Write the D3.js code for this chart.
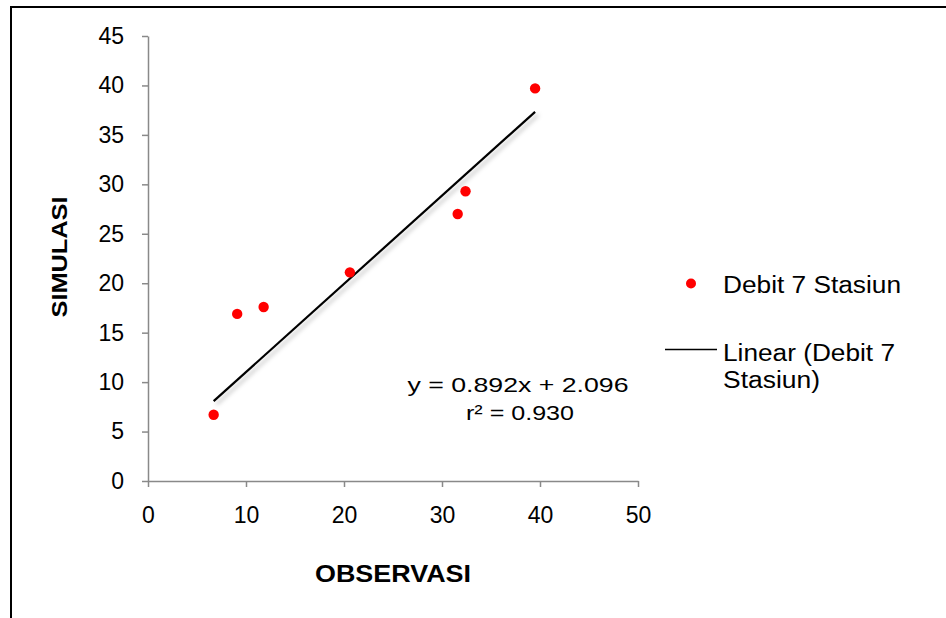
<!DOCTYPE html>
<html>
<head>
<meta charset="utf-8">
<script src="https://cdn.jsdelivr.net/npm/d3@7.9.0/dist/d3.min.js"></script>
<style>
  body { margin: 0; background: #fff; }
  svg { display: block; font-family: Arial, "Liberation Sans", sans-serif; }
</style>
</head>
<body>
<svg id="chart" width="946" height="618"></svg>
<script>
const observasi = [6.7, 9.1, 11.8, 20.6, 31.6, 32.4, 39.5];
const simulasi = [6.7, 16.9, 17.6, 21.1, 27.0, 29.3, 39.7];
const xTicks = [0, 10, 20, 30, 40, 50];
const yTicks = [0, 5, 10, 15, 20, 25, 30, 35, 40, 45];
const slope = 0.892, intercept = 2.096, r2 = 0.930;

const svg = d3.select('#chart');
const axisColor = '#898989';

// outer frame (only left & top edges are visible in the window)
svg.append('rect')
    .attr('x', 11).attr('y', 7)
    .attr('width', 1000).attr('height', 700)
    .attr('fill', 'none').attr('stroke', '#000').attr('stroke-width', 2);

const x = d3.scaleLinear().domain([0, 50]).range([148, 638]);
const y = d3.scaleLinear().domain([0, 45]).range([481, 36]);

// shadow for the trend line
const defs = svg.append('defs');
defs.append('filter').attr('id', 'shadow')
    .attr('x', '-10%').attr('y', '-10%').attr('width', '130%').attr('height', '130%')
  .append('feDropShadow')
    .attr('dx', 3).attr('dy', 3).attr('stdDeviation', 2)
    .attr('flood-color', '#000').attr('flood-opacity', 0.25);

// y axis
const yAxis = svg.append('g')
    .attr('transform', `translate(${x(0)},0)`)
    .call(d3.axisLeft(y).tickValues(yTicks).tickSize(6).tickSizeOuter(0).tickPadding(18));
yAxis.select('.domain').attr('stroke', axisColor).attr('stroke-width', 1.5);
yAxis.selectAll('.tick line').attr('stroke', axisColor).attr('stroke-width', 1.5);
yAxis.selectAll('.tick text').attr('font-size', 23).attr('fill', '#000')
    .attr('font-family', 'Arial, "Liberation Sans", sans-serif');

// x axis
const xAxis = svg.append('g')
    .attr('transform', `translate(0,${y(0)})`)
    .call(d3.axisBottom(x).tickValues(xTicks).tickSize(6).tickSizeOuter(0).tickPadding(20));
xAxis.select('.domain').attr('stroke', axisColor).attr('stroke-width', 1.5);
xAxis.selectAll('.tick line').attr('stroke', axisColor).attr('stroke-width', 1.5);
xAxis.selectAll('.tick text').attr('font-size', 23).attr('fill', '#000')
    .attr('font-family', 'Arial, "Liberation Sans", sans-serif');

// axis titles
svg.append('text')
    .attr('transform', 'translate(67,257) rotate(-90)')
    .attr('text-anchor', 'middle')
    .attr('font-size', 22).attr('font-weight', 'bold')
    .attr('textLength', 121).attr('lengthAdjust', 'spacingAndGlyphs')
    .text('SIMULASI');

svg.append('text')
    .attr('x', 393).attr('y', 582)
    .attr('text-anchor', 'middle')
    .attr('font-size', 23).attr('font-weight', 'bold')
    .attr('textLength', 156).attr('lengthAdjust', 'spacingAndGlyphs')
    .text('OBSERVASI');

// linear trend line across observed range
const xMin = d3.min(observasi), xMax = d3.max(observasi);
svg.append('line')
    .attr('x1', x(xMin)).attr('y1', y(slope * xMin + intercept))
    .attr('x2', x(xMax)).attr('y2', y(slope * xMax + intercept))
    .attr('stroke', '#000').attr('stroke-width', 2.2)
    .attr('filter', 'url(#shadow)');

// points
svg.append('g').selectAll('circle')
    .data(d3.zip(observasi, simulasi))
    .join('circle')
    .attr('cx', d => x(d[0]))
    .attr('cy', d => y(d[1]))
    .attr('r', 5.2)
    .attr('fill', '#ff0000');

// equation
svg.append('text')
    .attr('x', 518).attr('y', 392)
    .attr('text-anchor', 'middle').attr('font-size', 21)
    .attr('textLength', 221).attr('lengthAdjust', 'spacingAndGlyphs')
    .text(`y = ${slope.toFixed(3)}x + ${intercept.toFixed(3)}`);
svg.append('text')
    .attr('x', 520).attr('y', 420)
    .attr('text-anchor', 'middle').attr('font-size', 21)
    .attr('textLength', 108).attr('lengthAdjust', 'spacingAndGlyphs')
    .text(`r² = ${r2.toFixed(3)}`);

// legend
const legend = svg.append('g');
legend.append('circle').attr('cx', 691).attr('cy', 283.5).attr('r', 5).attr('fill', '#ff0000');
legend.append('text').attr('x', 723).attr('y', 293).attr('font-size', 23)
    .attr('textLength', 178).attr('lengthAdjust', 'spacingAndGlyphs')
    .text('Debit 7 Stasiun');
legend.append('line').attr('x1', 665).attr('x2', 717).attr('y1', 349.5).attr('y2', 349.5)
    .attr('stroke', '#000').attr('stroke-width', 1.5);
legend.append('text').attr('x', 723).attr('y', 361).attr('font-size', 23)
    .attr('textLength', 172).attr('lengthAdjust', 'spacingAndGlyphs')
    .text('Linear (Debit 7');
legend.append('text').attr('x', 723).attr('y', 388).attr('font-size', 23)
    .attr('textLength', 97).attr('lengthAdjust', 'spacingAndGlyphs')
    .text('Stasiun)');
</script>
</body>
</html>
